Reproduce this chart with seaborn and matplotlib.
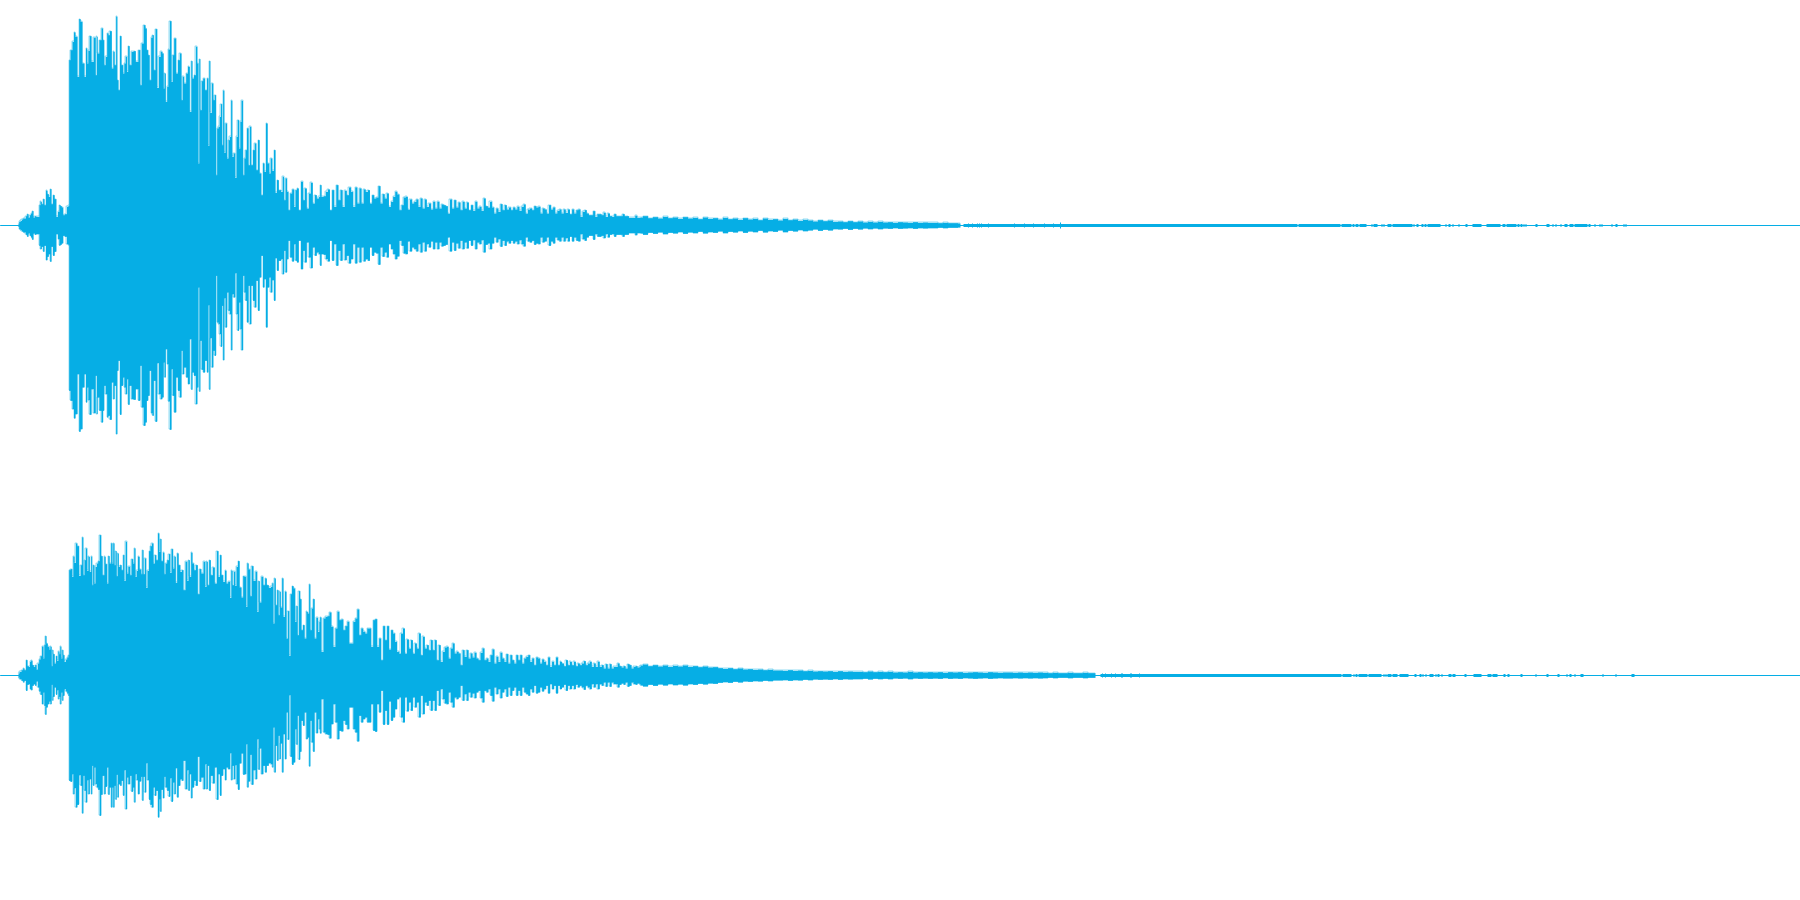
import numpy as np
import pandas as pd
import matplotlib
matplotlib.use("Agg")
import matplotlib.pyplot as plt
import seaborn as sns

# Stereo waveform. Time runs 0..5400 bins, full scale is +-675.
WAVE = "#06AEE5"
FULL = 676
TAIL_FULL = 226
N_BINS = 5400

# attack and decay, left channel: bin and headroom below full scale
left_t = [54, 58, 62, 66, 70, 74, 78, 82, 86, 90, 93, 97, 101, 105, 110, 115, 118, 122, 126, 130, 134, 139, 143, 147,
          151, 155, 160, 165, 170, 175, 178, 182, 186, 190, 196, 202, 205,
          207, 213, 219, 222, 228, 234, 238, 243, 249, 255, 258, 262, 265, 270, 276, 283, 288, 290, 293, 300, 306,
          309, 313, 318, 322, 325, 331, 337, 340, 345, 349, 352, 356, 361, 365, 370, 373, 378, 381, 385, 390, 396,
          402, 410, 417, 421, 426, 433, 437, 441, 445, 450, 454, 458, 462, 468, 472, 478, 483, 488, 491, 494, 498,
          502, 505, 511, 515, 518, 524, 530, 535, 541, 545, 548, 554, 560, 565, 571, 574, 578, 583, 589, 592, 595,
          598, 601, 606, 610, 617, 622, 625, 628, 631, 637, 640, 645, 648, 652, 656, 659, 663, 666, 670, 673, 677,
          682, 686, 690, 694, 697, 702, 706, 710, 713, 718, 721, 725, 730, 733, 737, 742, 746, 750, 755, 760, 765,
          770, 775, 780, 785, 790, 794, 799, 804, 808, 813, 818, 823, 827, 832, 838, 845, 848, 853, 857, 862, 866,
          872, 878, 883, 887, 892, 898, 905, 910, 916, 922, 928, 934, 940, 946, 952, 958]
left_head = [672, 665, 662, 658, 655, 655, 648, 642, 652, 645, 640, 633, 652, 648, 650, 650, 615, 605, 612, 597, 615,
             572, 582, 590, 567, 612, 585, 597, 650, 635, 615, 618, 622, 645, 642, 620, 617,
             180, 150, 125, 97, 110, 230, 57, 65, 190, 230, 145, 190, 152, 108, 185, 113, 225, 110, 160, 120, 85,
             120, 195, 170, 100, 105, 93, 205, 155, 195, 50, 240, 270, 108, 195, 220, 190, 170, 215, 138, 195, 155,
             153, 185, 150, 255, 130, 75, 85, 150, 165, 240, 113, 105, 210, 87, 263, 170, 155, 160, 265, 220, 305,
             260, 148, 63, 245, 165, 115, 220, 180, 160, 300, 230, 250, 220, 200, 335, 183, 235, 225, 140, 190, 490,
             177, 330, 243, 235, 270, 235, 437, 183, 338, 250, 300, 285, 525, 385, 380, 350, 312, 435, 272, 458, 370,
             475, 420, 410, 302, 470, 460, 533, 410, 360, 445, 365, 302, 525, 475, 450, 385, 495, 380, 495, 450, 430,
             510, 420, 520, 585, 490, 515, 370, 490, 520, 475, 512, 450, 578, 540, 570, 575, 530, 600, 535, 575, 630,
             580, 568, 620, 570, 565, 630, 545, 600, 565, 625, 580, 548, 610, 585, 595, 590]

# attack and decay, right channel
right_t = [54, 60, 66, 70, 74, 79, 83, 87, 90, 94, 98, 102, 106, 110, 114, 118, 122, 127, 130, 133, 136, 140, 144, 148,
           152, 155, 157, 160, 165, 168, 172, 175, 178, 181, 184, 187, 190, 194, 198, 202, 205,
           207, 213, 217, 220, 224, 228, 233, 238, 243, 247, 250, 254, 258, 262, 266, 270, 274, 276, 280, 283, 287,
           291, 295, 300, 304, 309, 314, 317, 322, 325, 330, 334, 337, 340, 344, 347, 350, 353, 357, 361, 366, 370,
           373, 378, 381, 386, 391, 395, 400, 403, 407, 410, 415, 420, 424, 427, 431, 435, 439, 443, 448, 451, 457,
           461, 465, 470, 475, 478, 481, 485, 490, 493, 497, 503, 507, 511, 515, 520, 524, 528, 532, 537, 542, 546,
           552, 558, 562, 566, 570, 574, 578, 583, 589, 595, 599, 606, 612, 616, 620, 624, 628, 634, 640, 646, 652,
           656, 661, 665, 671, 676, 680, 686, 691, 694, 698, 702, 706, 710, 715, 720, 726, 730, 735, 739, 742, 747,
           751, 756, 762, 768, 772, 776, 780, 785, 792, 796, 802, 808, 814, 817, 820, 824, 828, 832, 836, 839, 843,
           847, 851, 856, 860, 864, 868, 872, 877, 882, 886, 890, 893, 897, 901, 905, 910, 915, 920, 924, 928, 931,
           936, 940, 945, 950, 955, 958]
right_head = [670, 665, 660, 655, 660, 630, 648, 650, 635, 632, 645, 650, 645, 658, 640, 628, 618, 590, 625, 585, 558,
              580, 590, 598, 590, 648, 600, 612, 640, 618, 632, 605, 612, 590, 625, 600, 615, 635, 628, 622, 615,
              360, 357, 380, 320, 338, 280, 288, 377, 345, 262, 375, 330, 295, 362, 320, 365, 320, 405, 345, 400, 350,
              340, 333, 255, 318, 375, 320, 342, 400, 318, 340, 280, 340, 280, 345, 303, 378, 310, 350, 345, 360, 315,
              392, 275, 370, 350, 375, 327, 340, 295, 380, 362, 320, 358, 372, 300, 372, 325, 413, 362, 303, 288, 280,
              340, 315, 330, 250, 305, 267, 333, 308, 372, 340, 330, 312, 368, 297, 355, 320, 398, 310, 345, 365, 360,
              420, 335, 392, 330, 380, 308, 340, 360, 345, 432, 357, 370, 335, 410, 335, 405, 330, 375, 352, 400, 303,
              380, 315, 375, 395, 362, 400, 395, 443, 362, 405, 365, 407, 350, 333, 412, 442, 378, 380, 470, 340, 358,
              438, 348, 392, 365, 485, 393, 457, 380, 405, 385, 405, 413, 410, 400, 520, 385, 465, 420, 495, 425, 472,
              385, 500, 425, 565, 483, 617, 432, 408, 415, 515, 468, 555, 423, 447, 540, 525, 565, 485, 490, 403, 540,
              475, 447, 565, 503, 545, 515]

# slower decay, bins 960..1920 at even spacing
left_decay = [105, 140, 138, 125, 118, 180, 120, 170, 105, 150, 120, 170, 122, 135, 112, 125, 170, 112, 160, 115, 160,
              118, 125, 120, 160, 135, 145, 142, 108, 160, 132, 145, 130, 170, 155, 140, 125, 133, 180, 165, 142, 140,
              178, 148, 160, 155, 148, 170, 145, 175, 148, 170, 160, 178, 155, 175, 155, 175, 163, 165, 168, 190, 148,
              175, 150, 172, 157, 180, 155, 175, 157, 180, 165, 182, 155, 175, 170, 182, 145, 168, 172, 155, 172, 190,
              175, 185, 162, 180, 165, 178, 172, 180, 172, 178, 170, 182, 170, 163, 190, 178, 175, 180, 168, 172, 170,
              190, 175, 178, 190, 165, 178, 172, 190, 182, 178, 190, 178, 188, 178, 192, 178, 190, 180, 178, 200, 185,
              180, 190, 195, 195, 183, 200, 192, 192, 195, 188, 200, 190, 198, 200, 192, 198, 198, 198, 192, 198, 198,
              203, 203, 203, 197, 203, 203]
right_decay = [52, 155, 55, 50, 48, 37, 80, 140, 85, 35, 60, 58, 90, 78, 65, 130, 130, 65, 55, 28, 105, 85, 95, 100,
               85, 85, 140, 60, 57, 140, 115, 180, 78, 120, 78, 148, 90, 100, 125, 155, 160, 100, 85, 160, 118, 145,
               120, 160, 130, 145, 100, 165, 110, 145, 135, 150, 120, 150, 120, 180, 135, 185, 155, 142, 140, 175,
               145, 130, 160, 155, 160, 195, 150, 170, 150, 175, 160, 172, 158, 175, 180, 158, 145, 180, 175, 185,
               165, 148, 190, 170, 185, 158, 175, 185, 162, 190, 165, 180, 190, 165, 180, 165, 190, 175, 170, 165,
               185, 175, 195, 172, 175, 190, 178, 185, 195, 172, 200, 185, 195, 172, 195, 185, 190, 198, 180, 195,
               185, 195, 185, 198, 190, 195, 190, 183, 195, 190, 185, 200, 190, 200, 185, 200, 195, 205, 192, 205,
               192, 205, 200, 200, 190, 198, 202, 198, 205, 192, 195, 205, 200, 198, 202, 200]
decay_start, decay_end = 960, 1920

# long tail, bins from 1920 every 15, plain level
left_tail = [24, 28, 22, 25, 21, 26, 22, 24, 20, 25, 21, 23, 19, 24, 20, 22, 18, 23, 19, 21, 17, 22, 18, 20, 16, 21,
             17, 19, 15, 20, 16, 18, 14, 17, 15, 12, 16, 13, 15, 11,
             12, 10, 13, 10, 12, 9, 11, 9, 11, 9, 10, 8, 10, 9, 8, 10, 8, 9, 8, 8, 7, 8, 7, 7, 6]
right_tail = [30, 33, 28, 31, 27, 30, 26, 29, 27, 30, 26, 28, 25, 27, 24, 25, 22,
              20, 22, 19, 21, 18, 19, 17, 18, 16, 17, 15,
              15, 14, 16, 14, 15,
              13, 14, 12, 13, 12, 13, 11, 13, 11, 12, 11,
              11, 10, 12, 10, 11, 10, 11, 9, 10, 9, 11, 9, 10,
              9, 10, 9, 10, 8, 10, 9, 10, 8, 9, 10, 9, 8, 10, 9, 8, 9,
              9, 8, 9, 8, 9, 8, 9,
              8, 7, 8, 7, 7, 8, 7, 7, 8, 7, 7]
tail_step = 15

# little ticks above the tail bands
left_blip_t = [2905, 2915, 2930, 2936, 2942, 2965, 3042, 3072, 3100, 3132, 3160, 3180]
left_blip = [7, 7, 7, 7, 7, 7, 7, 7, 7, 7, 7, 8]
right_blip_t = [3307, 3316, 3333, 3346, 3363, 3367, 3389, 3393, 3418]
right_blip = [7, 7, 7, 7, 7, 7, 7, 7, 7]

# bursts at the end of the tail, before the line goes flat: start and end bins
left_burst_start = [2890, 3894, 4023, 4056, 4065, 4077, 4114, 4120, 4144, 4149, 4161, 4176, 4240, 4248, 4263, 4273, 4281,
                    4336, 4344, 4356, 4374, 4395, 4416, 4458, 4507, 4518, 4530, 4551, 4560, 4569, 4575, 4605, 4638,
                    4656, 4665, 4680, 4692, 4707, 4722, 4764, 4782, 4797, 4803, 4833, 4845, 4869, 4875]
left_burst_end = [3890, 4020, 4052, 4061, 4074, 4097, 4117, 4130, 4146, 4151, 4173, 4235, 4243, 4254, 4269, 4278, 4320,
                  4339, 4350, 4359, 4377, 4401, 4443, 4499, 4515, 4532, 4547, 4557, 4566, 4572, 4578, 4611, 4647, 4659,
                  4668, 4683, 4701, 4719, 4761, 4770, 4785, 4800, 4806, 4836, 4851, 4872, 4878]
right_burst_start = [3300, 4026, 4059, 4065, 4074, 4104, 4149, 4155, 4161, 4176, 4197, 4242, 4257, 4266, 4275, 4287, 4305,
                     4311, 4323, 4344, 4356, 4392, 4419, 4461, 4476, 4509, 4521, 4560, 4605, 4638, 4671, 4698, 4707,
                     4722, 4740, 4806, 4845, 4893]
right_burst_end = [4022, 4053, 4062, 4071, 4101, 4143, 4152, 4158, 4173, 4191, 4224, 4248, 4263, 4269, 4278, 4299, 4308,
                   4317, 4326, 4353, 4365, 4398, 4443, 4473, 4491, 4515, 4527, 4566, 4608, 4644, 4677, 4701, 4713, 4725,
                   4749, 4809, 4848, 4902]


def draw_channel(ax, t, head, decay, tail, burst_start, burst_end, blip_t, blip):
    decay_t = np.linspace(decay_start, decay_end, len(decay))
    tail_t = decay_end + tail_step * np.arange(len(tail))
    times = np.concatenate([t, decay_t, tail_t])
    levels = np.concatenate([FULL - np.array(head), TAIL_FULL - np.array(decay), tail])

    # one solid column per bin, mirrored round zero
    ax.fill_between(times, -levels, levels, step="mid", color=WAVE, linewidth=0)

    # outline of the columns, top and bottom
    df = pd.DataFrame({"bin": times, "top": levels, "bottom": -levels})
    sns.lineplot(data=df, x="bin", y="top", estimator=None, sort=False, drawstyle="steps-mid",
                 color=WAVE, linewidth=0.3, ax=ax)
    sns.lineplot(data=df, x="bin", y="bottom", estimator=None, sort=False, drawstyle="steps-mid",
                 color=WAVE, linewidth=0.3, ax=ax)

    ax.vlines(blip_t, -np.array(blip), blip, color=WAVE, linewidth=0.72)

    # flat line and the last bursts
    flat = pd.DataFrame({"bin": [0, N_BINS], "level": [0, 0]})
    sns.lineplot(data=flat, x="bin", y="level", estimator=None, color=WAVE, linewidth=0.72, ax=ax)
    ax.hlines(np.zeros(len(burst_start)), burst_start, burst_end, color=WAVE, linewidth=2.16,
              capstyle="butt")

    ax.set_xlim(0, N_BINS)
    ax.set_ylim(-675, 675)
    ax.axis("off")


sns.set_style("white")
fig = plt.figure(figsize=(18, 9), dpi=100)
ax_left = fig.add_axes([0, 0.5, 1, 0.5])
ax_right = fig.add_axes([0, 0, 1, 0.5])

draw_channel(ax_left, left_t, left_head, left_decay, left_tail,
             left_burst_start, left_burst_end, left_blip_t, left_blip)
draw_channel(ax_right, right_t, right_head, right_decay, right_tail,
             right_burst_start, right_burst_end, right_blip_t, right_blip)

fig.savefig("out.png", dpi=100)
plt.close(fig)
